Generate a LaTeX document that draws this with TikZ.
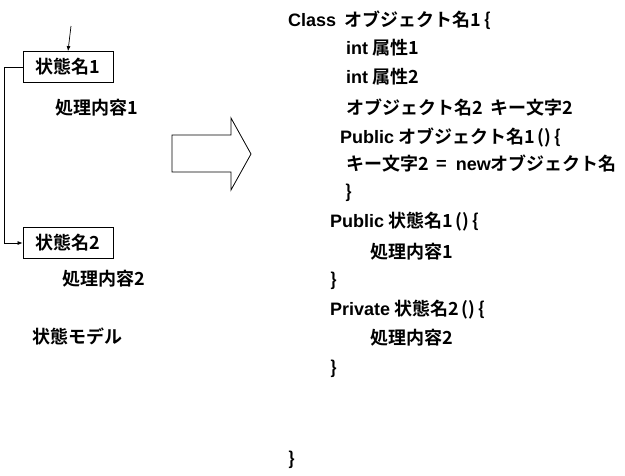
\documentclass[tikz,border=0pt]{standalone}
\usepackage{fontspec}
\setmainfont{Noto Sans CJK JP}[BoldFont={Noto Sans CJK JP Bold}]
\newfontfamily\latinfont{Liberation Sans}
\newcommand{\lt}[1]{{\latinfont\bfseries #1}}
\usetikzlibrary{arrows.meta}
\tikzset{
  txt/.style={anchor=west, inner sep=0pt, font=\fontsize{18}{21}\selectfont\bfseries},
  statebox/.style={draw, line width=0.8pt, minimum width=90pt, minimum height=31pt, inner sep=0pt, font=\fontsize{18}{21}\selectfont\bfseries},
  conn/.style={line width=0.7pt, -{Latex[length=5pt,width=4pt]}}
}
\begin{document}
\begin{tikzpicture}[x=1pt,y=-1pt]
\useasboundingbox (0,0) rectangle (625,475);
% left: state model
\coordinate (start) at (71,26);
\node[statebox] (s1) at (68,67) {状態名1};
\node[txt] (p1) at (55,108) {処理内容1};
\node[statebox] (s2) at (68,243) {状態名2};
\node[txt] (p2) at (62,279) {処理内容2};
\node[txt] (model) at (32,336) {状態モデル};
\coordinate (corner) at (4,67);
\draw[conn] (start) -- (s1.north);
\draw[conn] (s1.west) -- (corner) |- (s2.west);
% block arrow
\draw[line width=0.8pt] (172,135) -- (231,135) -- (231,118) -- (251,154) -- (231,190) -- (231,172) -- (172,172) -- cycle;
% right: code
\node[txt] (l1) at (288,20) {\lt{Class}\ \ オブジェクト名1\,\{};
\node[txt] (l2) at (346,48) {\lt{int} 属性1};
\node[txt] (l3) at (346,77) {\lt{int} 属性2};
\node[txt] (l4) at (346,108) {オブジェクト名2\ \ キー文字2};
\node[txt] (l5) at (340,137) {\lt{Public} オブジェクト名1\,()\,\{};
\node[txt] (l6) at (346,164) {キー文字2\ \ =\ \ \lt{new}オブジェクト名};
\node[txt] (l7) at (345,193) {\}};
\node[txt] (l8) at (330,222) {\lt{Public} 状態名1\,()\,\{};
\node[txt] (l9) at (370,252) {処理内容1};
\node[txt] (l10) at (330,281) {\}};
\node[txt] (l11) at (330,310) {\lt{Private} 状態名2\,()\,\{};
\node[txt] (l12) at (370,338) {処理内容2};
\node[txt] (l13) at (330,369) {\}};
\node[txt] (l14) at (288,460) {\}};
\end{tikzpicture}
\end{document}
